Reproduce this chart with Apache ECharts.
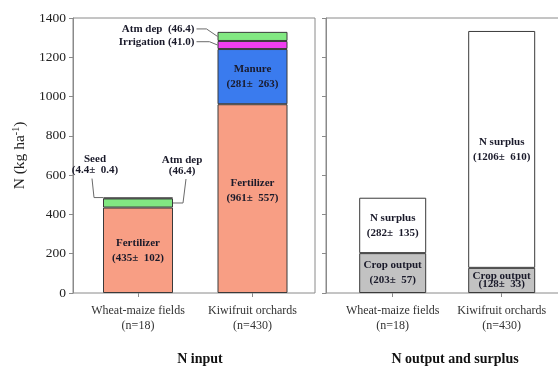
<!DOCTYPE html>
<html>
<head>
<meta charset="utf-8">
<title>N input, output and surplus</title>
<script src="https://cdn.jsdelivr.net/npm/echarts@6/dist/echarts.min.js"></script>
<style>
  html, body { margin: 0; padding: 0; background: #fff; }
  #chart { width: 558px; height: 367px; }
</style>
</head>
<body>
<div id="chart"></div>
<script>
// ---- data (kg N per ha) ----
const categories = ['Wheat-maize fields\n(n=18)', 'Kiwifruit orchards\n(n=430)'];

const fertilizer   = [435, 961];
const fertilizerSD = [102, 557];
const manure       = [null, 281];
const manureSD     = [null, 263];
const irrigation   = [null, 41.0];
const atmDep       = [46.4, 46.4];
const seed         = [4.4, null];
const seedSD       = [0.4, null];

const cropOutput   = [203, 128];
const cropSD       = [57, 33];
const surplus      = [282, 1206];
const surplusSD    = [135, 610];

const yMin = 0, yMax = 1400, yStep = 200;

// ---- styling ----
const FONT = 'Liberation Serif';
const FRAME = '#8a8a8a';
const EDGE = '#3a3a3a';
const INK = '#1a1a2a';
const BAR_W_IN = 70;
const BAR_W_OUT = 67;

const C_FERT = '#F89E84';
const C_MANURE = '#3A7BEE';
const C_IRRIG = '#F03EF0';
const C_ATM = '#82E882';
const C_CROP = '#C2C2C2';
const C_SURPLUS = '#FFFFFF';

function fmt(v) { return String(v); }
function meanSd(name, m, s) { return name + '\n(' + fmt(m) + '\u00b1  ' + fmt(s) + ')'; }

const insideLabel = {
  show: true,
  position: 'inside',
  fontFamily: FONT,
  fontWeight: 'bold',
  fontSize: 11,
  lineHeight: 15,
  color: INK
};

function labelled(values, labelFn, extra) {
  return values.map(function (v, i) {
    if (v == null) return null;
    const item = { value: v };
    const text = labelFn ? labelFn(i) : null;
    item.label = text ? Object.assign({}, insideLabel, { formatter: text }, (extra && extra[i]) || {}) : { show: false };
    return item;
  });
}

function segStyle(color) {
  return { color: color, borderColor: EDGE, borderWidth: 1 };
}

// callout anchors derived from the stacked values
const wheatTop = fertilizer[0] + atmDep[0] + seed[0];
const wheatAtmMid = fertilizer[0] + atmDep[0] / 2;
const kiwiIrrMid = fertilizer[1] + manure[1] + irrigation[1] / 2;
const kiwiAtmMid = fertilizer[1] + manure[1] + irrigation[1] + atmDep[1] / 2;

const callouts = [
  { cat: 0, value: wheatTop, text: ['Seed', '(' + seed[0] + '\u00b1  ' + seedSD[0] + ')'] },
  { cat: 0, value: wheatAtmMid, text: ['Atm dep', '(' + atmDep[0] + ')'] },
  { cat: 1, value: kiwiAtmMid, text: ['Atm dep  (' + atmDep[1] + ')'] },
  { cat: 1, value: kiwiIrrMid, text: ['Irrigation (' + irrigation[1].toFixed(1) + ')'] }
];

// leader geometry, relative to the bar edge anchor
const calloutShape = [
  { edge: -1, pts: [[0, 0], [-9, 0], [-11, -19]], tx: -8, ty: [-38, -27], align: 'center' },
  { edge: 1,  pts: [[0, 0], [10, 0], [13, -24]], tx: 9, ty: [-43, -32], align: 'center' },
  { edge: -1, pts: [[0, 0], [-11, -7.5], [-21, -7.5]], tx: -23, ty: [-7.5], align: 'right' },
  { edge: -1, pts: [[0, 0], [-8, -3.3], [-21, -3.3]], tx: -23, ty: [-3.3], align: 'right' }
];

function renderCallout(params, api) {
  const i = api.value(2);
  const s = calloutShape[i];
  const c = api.coord([api.value(0), api.value(1)]);
  const ax = c[0] + s.edge * BAR_W_IN / 2;
  const ay = c[1];
  const children = [{
    type: 'polyline',
    shape: { points: s.pts.map(function (p) { return [ax + p[0], ay + p[1]]; }) },
    style: { stroke: '#6a6a6a', lineWidth: 1, fill: null }
  }];
  callouts[i].text.forEach(function (t, k) {
    children.push({
      type: 'text',
      style: {
        text: t, x: ax + s.tx, y: ay + s.ty[k],
        align: s.align, verticalAlign: 'middle',
        fontFamily: FONT, fontWeight: 'bold', fontSize: 11, fill: INK
      }
    });
  });
  return { type: 'group', children: children };
}

const chart = echarts.init(document.getElementById('chart'), null, { renderer: 'canvas' });

const frameY = function (gridIndex, showLabels) {
  return {
    type: 'value', gridIndex: gridIndex, min: yMin, max: yMax, interval: yStep,
    axisLine: { show: true, lineStyle: { color: FRAME, width: 1 } },
    axisTick: { show: true, inside: false, length: 4, lineStyle: { color: FRAME } },
    axisLabel: { show: showLabels, fontFamily: FONT, fontSize: 13.5, color: '#222', margin: 7,
                 formatter: function (v) { return String(v); } },
    splitLine: { show: false }
  };
};
const barY = function (gridIndex) {
  return { type: 'value', gridIndex: gridIndex, min: yMin, max: yMax, interval: yStep, show: false, splitLine: { show: false } };
};
const barX = function (gridIndex) {
  return {
    type: 'category', gridIndex: gridIndex, data: categories,
    axisLine: { show: false },
    axisTick: { show: true, alignWithLabel: true, length: 4, lineStyle: { color: FRAME } },
    axisLabel: { interval: 0, hideOverlap: false, fontFamily: FONT, fontSize: 12, lineHeight: 15, color: '#333', margin: 10 },
    splitLine: { show: false }
  };
};
const frameX = function (gridIndex) {
  return { type: 'value', gridIndex: gridIndex, min: 0, max: 1, show: false, splitLine: { show: false } };
};

chart.setOption({
  animation: false,
  backgroundColor: '#fff',
  title: [
    { text: 'N input', left: 195, top: 347, textAlign: 'center',
      textStyle: { fontFamily: FONT, fontSize: 14, fontWeight: 'bold', color: '#111' } },
    { text: 'N output and surplus', left: 450, top: 347, textAlign: 'center',
      textStyle: { fontFamily: FONT, fontSize: 14, fontWeight: 'bold', color: '#111' } }
  ],
  grid: [
    { left: 73, top: 18, width: 242, height: 275, show: true, borderColor: FRAME, borderWidth: 1, backgroundColor: 'transparent', outerBoundsMode: 'none', containLabel: false },
    { left: 80.75, top: 18, width: 229, height: 275, outerBoundsMode: 'none', containLabel: false },
    { left: 326, top: 18, width: 260, height: 275, show: true, borderColor: FRAME, borderWidth: 1, backgroundColor: 'transparent', outerBoundsMode: 'none', containLabel: false },
    { left: 338.2, top: 18, width: 218, height: 275, outerBoundsMode: 'none', containLabel: false }
  ],
  xAxis: [frameX(0), barX(1), frameX(2), barX(3)],
  yAxis: [
    Object.assign(frameY(0, true), {
      name: 'N (kg ha{sup|-1})',
      nameLocation: 'middle', nameGap: 45,
      nameTextStyle: {
        fontFamily: FONT, fontSize: 15.5, color: '#222',
        rich: { sup: { fontFamily: FONT, fontSize: 10, verticalAlign: 'top', padding: [0, 0, 7, 0] } }
      }
    }),
    barY(1),
    frameY(2, false),
    barY(3)
  ],
  series: [
    { type: 'bar', name: 'Fertilizer', xAxisIndex: 1, yAxisIndex: 1, stack: 'in', barWidth: BAR_W_IN,
      itemStyle: segStyle(C_FERT),
      data: labelled(fertilizer, function (i) { return meanSd('Fertilizer', fertilizer[i], fertilizerSD[i]); },
                     [null, { offset: [0, -8] }]) },
    { type: 'bar', name: 'Manure', xAxisIndex: 1, yAxisIndex: 1, stack: 'in', barWidth: BAR_W_IN,
      itemStyle: segStyle(C_MANURE),
      data: labelled(manure, function (i) { return meanSd('Manure', manure[i], manureSD[i]); }) },
    { type: 'bar', name: 'Irrigation', xAxisIndex: 1, yAxisIndex: 1, stack: 'in', barWidth: BAR_W_IN,
      itemStyle: segStyle(C_IRRIG), data: labelled(irrigation, null) },
    { type: 'bar', name: 'Atm dep', xAxisIndex: 1, yAxisIndex: 1, stack: 'in', barWidth: BAR_W_IN,
      itemStyle: segStyle(C_ATM), data: labelled(atmDep, null) },
    { type: 'bar', name: 'Seed', xAxisIndex: 1, yAxisIndex: 1, stack: 'in', barWidth: BAR_W_IN,
      itemStyle: segStyle(C_ATM), data: labelled(seed, null) },
    { type: 'custom', name: 'callouts', xAxisIndex: 1, yAxisIndex: 1, z: 5,
      renderItem: renderCallout,
      data: callouts.map(function (c, i) { return [c.cat, c.value, i]; }) },

    { type: 'bar', name: 'Crop output', xAxisIndex: 3, yAxisIndex: 3, stack: 'out', barWidth: BAR_W_OUT,
      itemStyle: segStyle(C_CROP),
      data: labelled(cropOutput, function (i) { return meanSd('Crop output', cropOutput[i], cropSD[i]); },
                     [null, { lineHeight: 8, offset: [0, 0] }]) },
    { type: 'bar', name: 'N surplus', xAxisIndex: 3, yAxisIndex: 3, stack: 'out', barWidth: BAR_W_OUT,
      itemStyle: segStyle(C_SURPLUS),
      data: labelled(surplus, function (i) { return meanSd('N surplus', surplus[i], surplusSD[i]); }) }
  ]
});
</script>
</body>
</html>
